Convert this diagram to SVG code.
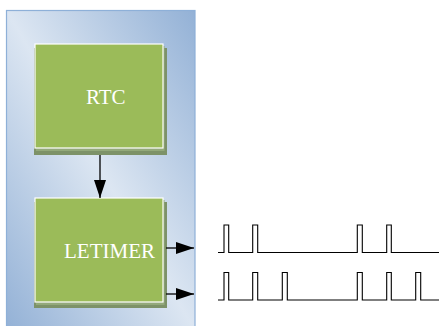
<svg xmlns="http://www.w3.org/2000/svg" width="439" height="326" viewBox="0 0 439 326">
<defs>
<linearGradient id="bg" x1="1" y1="0" x2="0" y2="1">
<stop offset="0" stop-color="#93b1d6"/>
<stop offset="0.5" stop-color="#dce6f2"/>
<stop offset="1" stop-color="#93b1d6"/>
</linearGradient>
<marker id="ahl" viewBox="0 0 18 12" refX="18" refY="6" markerWidth="18" markerHeight="12" markerUnits="userSpaceOnUse" orient="auto">
<path d="M0,0 L18,6 L0,12 Z" fill="#000"/>
</marker>
</defs>
<style>
.shadow{fill:#7d9268}
.shadow2{fill:#93a97a}
.box{fill:#9bbb59;stroke:#ffffff;stroke-width:1.2}
.lbl{font-family:"Liberation Serif","Times New Roman",serif;font-size:21px;fill:#ffffff}
.wire{stroke:#000;stroke-width:1.3;fill:none}
.wave{stroke:#000;stroke-width:1.1;fill:none}
</style>
<rect id="panel" x="6.5" y="10.5" width="188.5" height="320" fill="url(#bg)" stroke="#8eb0d8" stroke-width="1.2"/>
<g id="rtc">
<rect class="shadow" x="34" y="48" width="133" height="107"/>
<rect class="shadow2" x="36" y="46" width="128.5" height="105"/>
<rect class="box" x="35" y="44" width="128" height="104"/>
<text class="lbl" x="86" y="104">RTC</text>
</g>
<g id="letimer">
<rect class="shadow" x="34" y="202" width="133" height="106"/>
<rect class="shadow2" x="36" y="200" width="128.5" height="105"/>
<rect class="box" x="35" y="198" width="128" height="104"/>
<text class="lbl" x="64" y="258">LETIMER</text>
</g>
<g id="connectors">
<line class="wire" x1="100" y1="155" x2="100" y2="198" marker-end="url(#ahl)"/>
<line class="wire" x1="166" y1="248" x2="194" y2="248" marker-end="url(#ahl)"/>
<line class="wire" x1="166" y1="294" x2="194" y2="294" marker-end="url(#ahl)"/>
</g>
<g id="wave1">
<path class="wave" d="M218,252.5 H224 V225 H228.7 V252.5 H252.7 V225 H257.7 V252.5 H357.3 V225 H362.3 V252.5 H386.7 V225 H391.3 V252.5 H439"/>
</g>
<g id="wave2">
<path class="wave" d="M218,300 H224 V272.5 H228.7 V300 H252.7 V272.5 H257.7 V300 H282.3 V272.5 H287.3 V300 H357.3 V272.5 H362.3 V300 H386.7 V272.5 H391.3 V300 H415.7 V272.5 H420.7 V300 H439"/>
</g>
</svg>
